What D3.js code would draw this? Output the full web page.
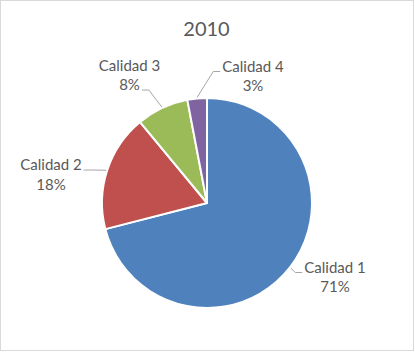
<!DOCTYPE html>
<html>
<head>
<meta charset="utf-8">
<script src="https://cdn.jsdelivr.net/npm/d3@7"></script>
<style>
  body { margin: 0; background: #fff; }
  text { font-family: Lato, "Open Sans", sans-serif; fill: #595959; }
</style>
</head>
<body>
<div id="chart"></div>
<script>
var title = "2010";
var categories = ["Calidad 1", "Calidad 2", "Calidad 3", "Calidad 4"];
var values = [71, 18, 8, 3];
var colors = ["#4f81bd", "#c0504d", "#9bbb59", "#8064a2"];

// label placement (center x, first baseline y), like excel's best fit
var labelAt = [[335, 272.5], [51, 170], [129.5, 70.5], [253, 71.5]];

var W = 415, H = 353;
var cx = 207, cy = 203, R = 105;
var lineH = 19.5;

var svg = d3.select("#chart").append("svg")
    .attr("width", W)
    .attr("height", H);

// chart area frame
svg.append("rect")
    .attr("x", 0.5).attr("y", 0.5)
    .attr("width", 413).attr("height", 350)
    .attr("fill", "#fff")
    .attr("stroke", "#d9d9d9");

svg.append("text")
    .attr("x", 206.5)
    .attr("y", 35.5)
    .attr("text-anchor", "middle")
    .style("font-size", "20px")
    .text(title);

var data = categories.map(function(c, i) { return { name: c, value: values[i], color: colors[i] }; });
var total = d3.sum(values);

var pie = d3.pie().sort(null).value(function(d) { return d.value; });
var arc = d3.arc().innerRadius(0).outerRadius(R);
var rim = d3.arc().innerRadius(R + 1).outerRadius(R + 1);

var arcs = pie(data);

var g = svg.append("g").attr("transform", "translate(" + cx + "," + cy + ")");

g.selectAll("path.slice")
    .data(arcs)
    .enter().append("path")
    .attr("class", "slice")
    .attr("d", arc)
    .attr("fill", function(d) { return d.data.color; })
    .attr("stroke", "#fff")
    .attr("stroke-width", 2)
    .attr("stroke-linejoin", "round");

// labels
var labels = svg.selectAll("text.lbl")
    .data(arcs)
    .enter().append("text")
    .attr("class", "lbl")
    .attr("text-anchor", "middle")
    .style("font-size", "15px");

labels.each(function(d, i) {
    var t = d3.select(this);
    var p = labelAt[i];
    t.append("tspan").attr("x", p[0]).attr("y", p[1]).text(d.data.name);
    t.append("tspan").attr("x", p[0]).attr("y", p[1] + lineH)
        .text(Math.round(d.data.value / total * 100) + "%");
});

// leader lines: from the slice mid point on the rim to the nearest label line
labels.each(function(d, i) {
    var p = labelAt[i];
    var c = rim.centroid(d);
    var rx = cx + c[0], ry = cy + c[1];
    var right = p[0] < rx;
    var best = null;
    d3.select(this).selectAll("tspan").each(function(_, j) {
        var w = this.getComputedTextLength();
        var ax = right ? p[0] + w / 2 + 2 : p[0] - w / 2 - 2;
        var ay = p[1] + j * lineH;
        var dist = Math.hypot(ax - rx, ay - ry);
        if (!best || dist < best.dist) best = { x: ax, y: ay, dist: dist };
    });
    var ex = best.x + (right ? 7 : -7);
    if (right ? ex > rx : ex < rx) ex = rx;
    svg.append("polyline")
        .attr("points", [[best.x, best.y], [ex, best.y], [rx, ry]].join(" "))
        .attr("fill", "none")
        .attr("stroke", "#a6a6a6")
        .attr("stroke-width", 1);
});
</script>
</body>
</html>
